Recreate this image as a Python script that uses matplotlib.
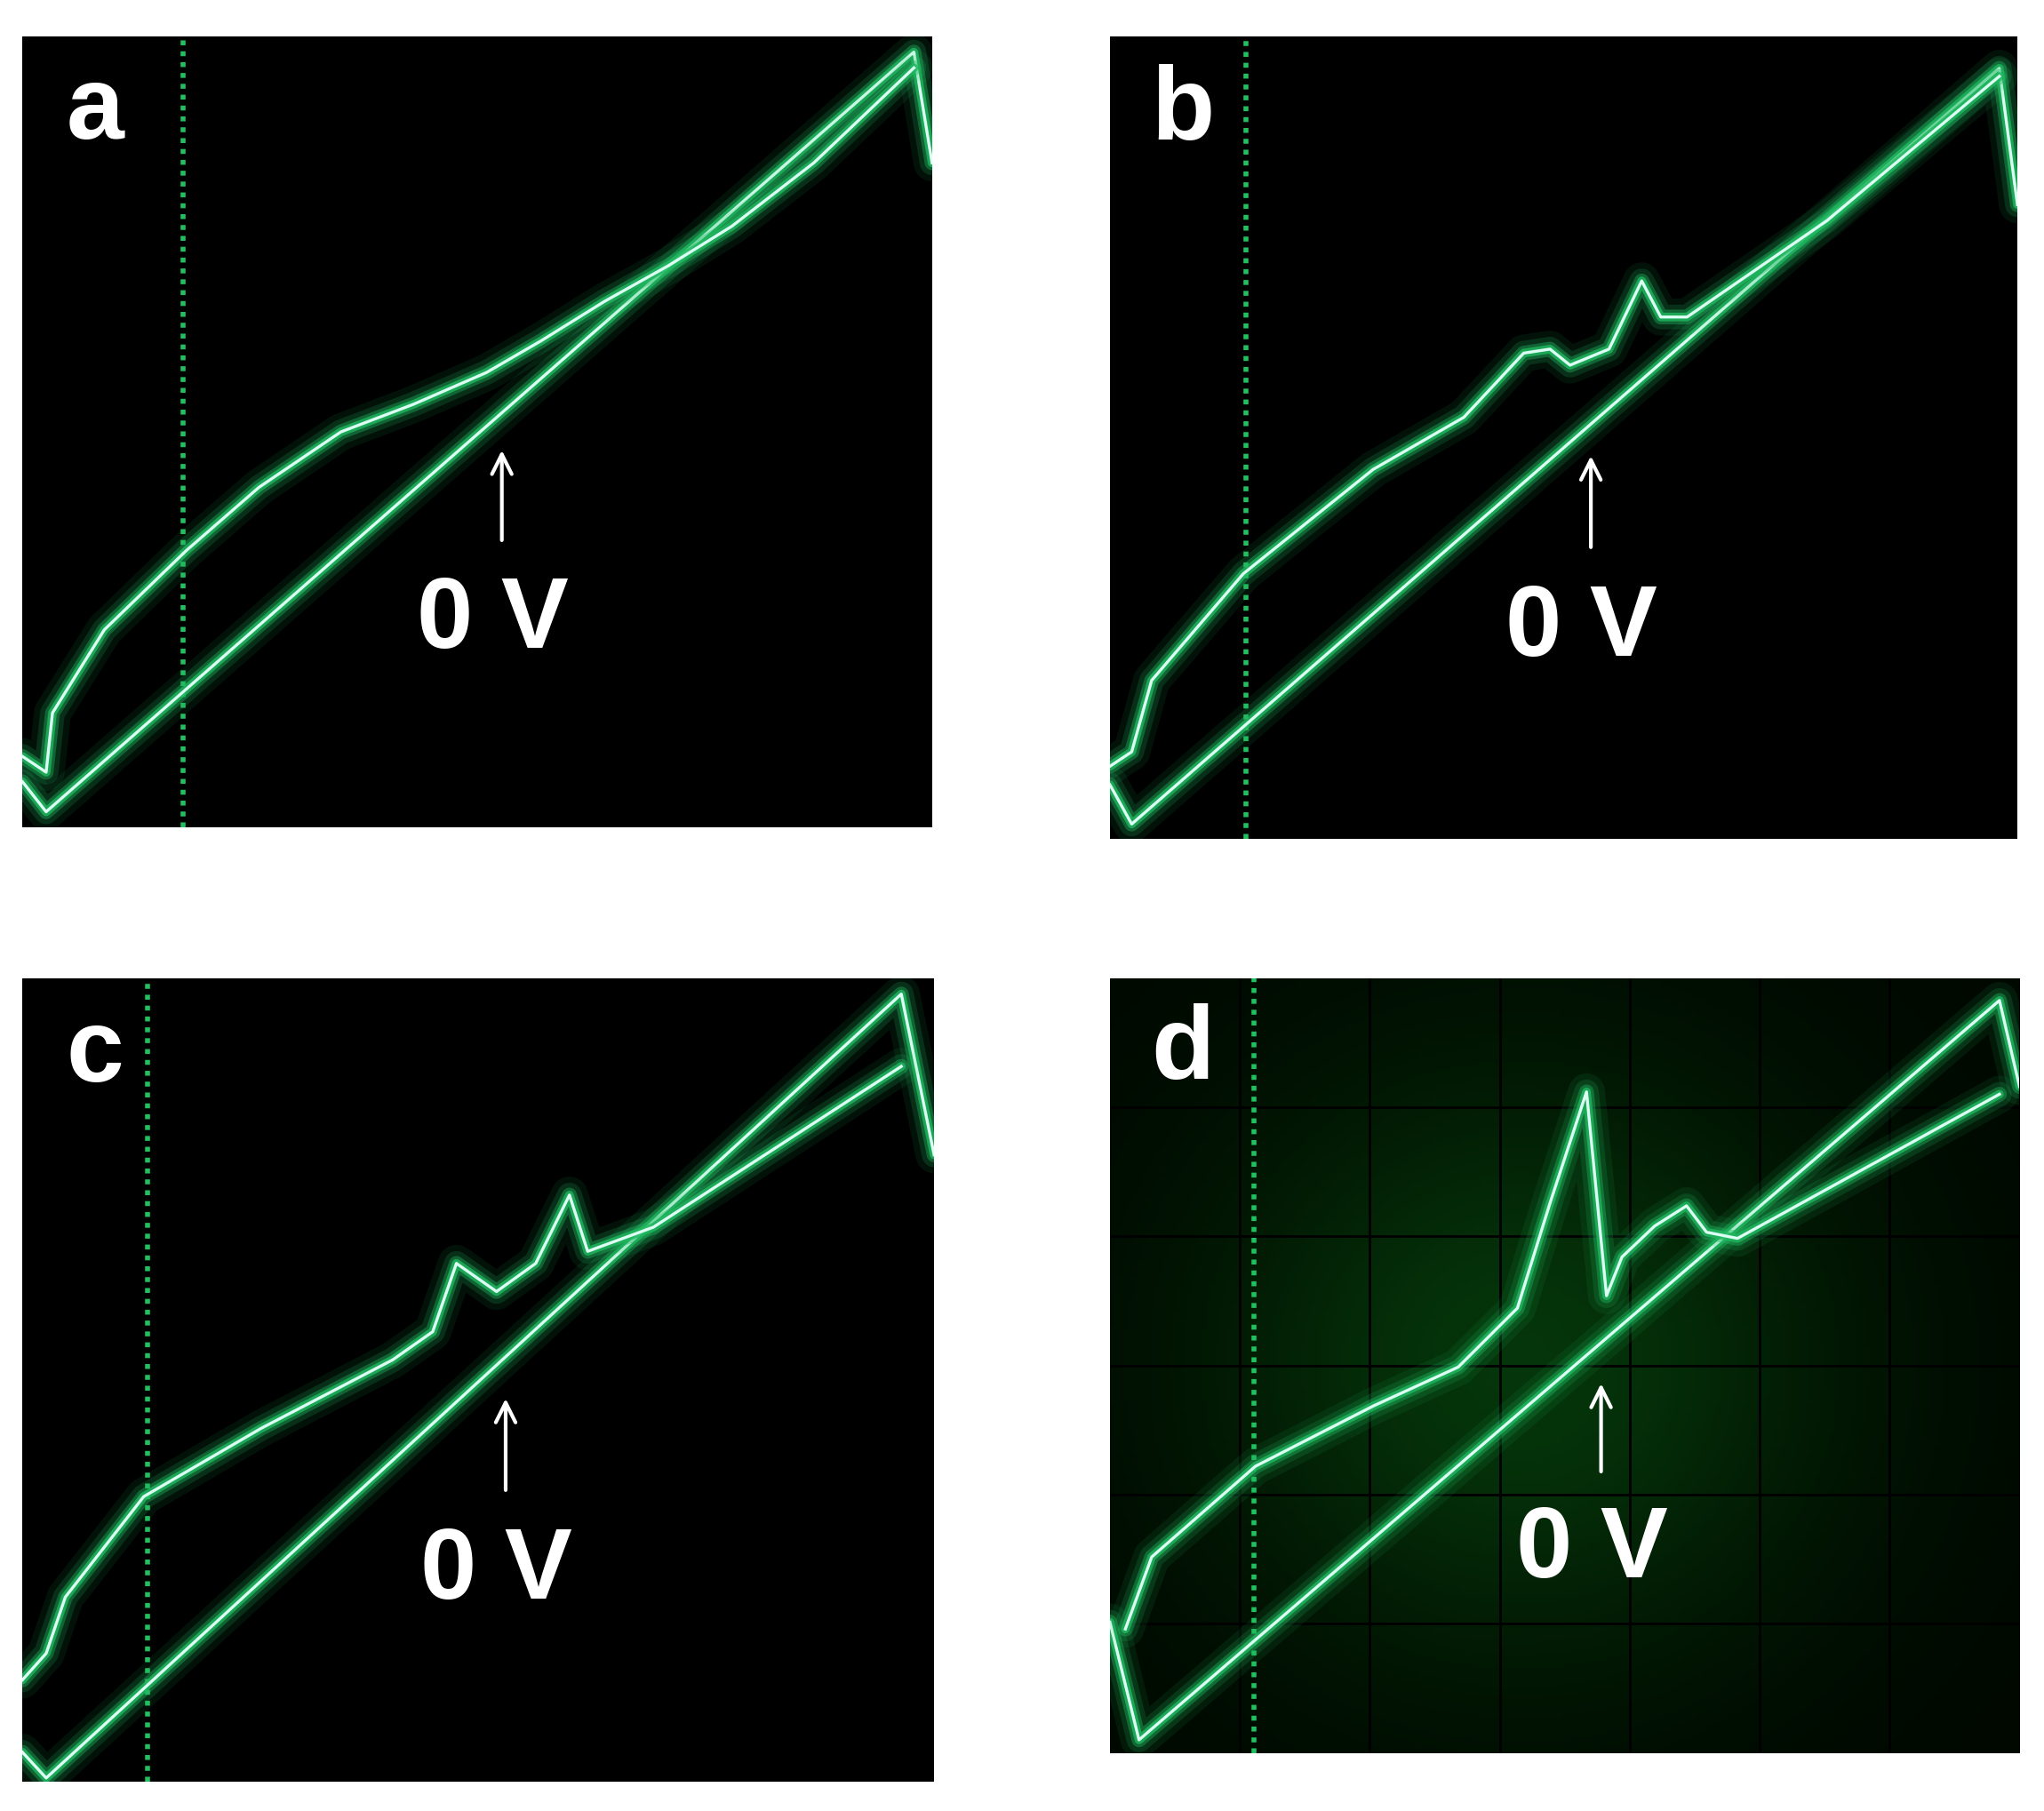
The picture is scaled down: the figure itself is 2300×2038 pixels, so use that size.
import numpy as np
import matplotlib
matplotlib.use("Agg")
import matplotlib.pyplot as plt

labels = ["a", "b", "c", "d"]
rects = {"a": [0.011, 0.543, 0.445, 0.437], "b": [0.543, 0.537, 0.444, 0.443],
         "c": [0.011, 0.016, 0.446, 0.444], "d": [0.543, 0.032, 0.445, 0.428]}
marker_x = {"a": 0.177, "b": 0.15, "c": 0.137, "d": 0.158}
arrow_x = {"a": 0.527, "b": 0.53, "c": 0.53, "d": 0.54}

lower_x = {"a": [0, 0.026, 0.98, 1.0], "b": [0, 0.024, 0.98, 1.0],
           "c": [0, 0.026, 0.964, 1.0], "d": [0, 0.032, 0.978, 1.0]}
lower_y = {"a": [0.058, 0.02, 0.98, 0.84], "b": [0.067, 0.018, 0.96, 0.79],
           "c": [0.037, 0.005, 0.98, 0.78], "d": [0.169, 0.017, 0.971, 0.86]}
upper_x = {
    "a": [0.0, 0.026, 0.033, 0.09, 0.18, 0.26, 0.35, 0.43, 0.51, 0.57, 0.64, 0.71, 0.78, 0.87, 0.98],
    "b": [0.0, 0.024, 0.046, 0.147, 0.29, 0.39, 0.456, 0.485, 0.507, 0.55, 0.586, 0.607, 0.636, 0.79, 0.98],
    "c": [0.0, 0.026, 0.047, 0.133, 0.262, 0.406, 0.45, 0.476, 0.52, 0.563, 0.6, 0.62, 0.692, 0.964],
    "d": [0.017, 0.046, 0.16, 0.29, 0.383, 0.448, 0.484, 0.524, 0.546, 0.563, 0.599, 0.634, 0.656, 0.69, 0.978],
}
upper_y = {
    "a": [0.09, 0.07, 0.145, 0.25, 0.35, 0.43, 0.5, 0.535, 0.575, 0.615, 0.665, 0.71, 0.76, 0.84, 0.96],
    "b": [0.09, 0.108, 0.197, 0.33, 0.46, 0.525, 0.605, 0.61, 0.59, 0.61, 0.695, 0.65, 0.65, 0.77, 0.95],
    "c": [0.127, 0.16, 0.23, 0.355, 0.44, 0.525, 0.56, 0.645, 0.61, 0.645, 0.73, 0.66, 0.69, 0.89],
    "d": [0.16, 0.253, 0.37, 0.448, 0.498, 0.574, 0.71, 0.853, 0.59, 0.64, 0.68, 0.706, 0.672, 0.664, 0.85],
}

fig = plt.figure(figsize=(23, 20.38), dpi=100)
fig.patch.set_facecolor("white")

def glow(ax, x, y):
    for lw, a in [(30, 0.1), (20, 0.18), (12, 0.4), (7, 0.8)]:
        ax.plot(x, y, color="#20b860", lw=lw, alpha=a, solid_capstyle="round", solid_joinstyle="round")
    ax.plot(x, y, color="#dcfff4", lw=2.4, solid_joinstyle="round")

for lab in labels:
    ax = fig.add_axes(rects[lab])
    ax.set_facecolor("black")
    ax.set_xlim(0, 1); ax.set_ylim(0, 1)
    ax.set_xticks([]); ax.set_yticks([])
    for s in ax.spines.values():
        s.set_visible(False)
    if lab == "d":
        yy, xx = np.mgrid[0:1:200j, 0:1:200j]
        g = np.exp(-((xx - 0.45) ** 2 / 0.12 + (yy - 0.5) ** 2 / 0.15))
        img = np.zeros((200, 200, 3))
        img[..., 1] = 0.18 * g + 0.03
        img[..., 0] = 0.02 * g
        img[..., 2] = 0.04 * g
        ax.imshow(img, extent=[0, 1, 0, 1], origin="lower", aspect="auto", zorder=0)
        for gx in np.arange(1, 7) / 7:
            ax.axvline(gx, color="black", lw=2, zorder=1)
        for gy in np.arange(1, 6) / 6:
            ax.axhline(gy, color="black", lw=2, zorder=1)
    ax.axvline(marker_x[lab], color="#22c060", lw=4, ls=(0, (1, 1.2)))
    glow(ax, lower_x[lab], lower_y[lab])
    glow(ax, upper_x[lab], upper_y[lab])
    ax.annotate("", xy=(arrow_x[lab], 0.48), xytext=(arrow_x[lab], 0.36),
                arrowprops=dict(arrowstyle="->", color="white", lw=3, mutation_scale=40))
    ax.text(arrow_x[lab] - 0.01, 0.26, "0 V", color="white", fontsize=82,
            fontweight="bold", family="Liberation Sans", ha="center", va="center")
    ax.text(0.08, 0.905, lab, color="white", fontsize=84, fontweight="bold",
            family="Liberation Sans", ha="center", va="center")

fig.savefig("out.png", dpi=100, facecolor="white")
